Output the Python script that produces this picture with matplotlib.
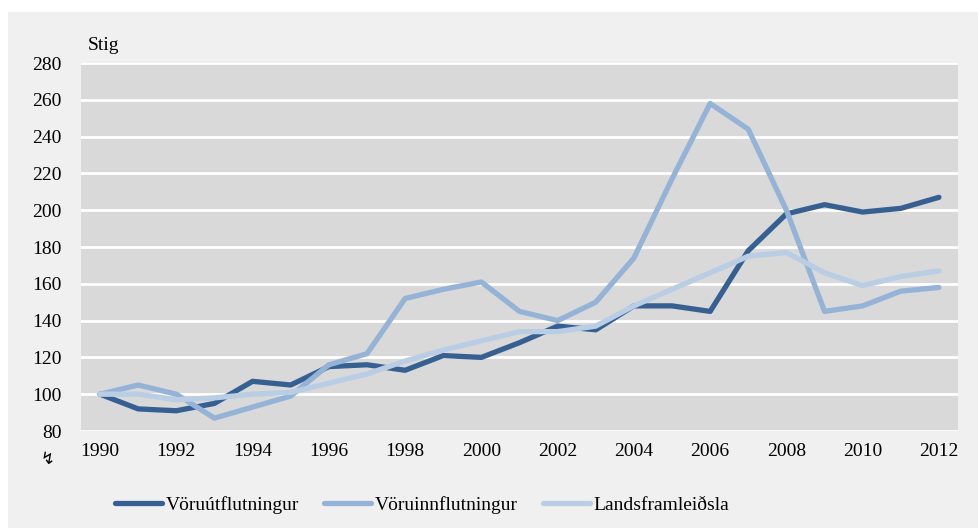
import matplotlib
matplotlib.use("Agg")
import matplotlib.pyplot as plt
from matplotlib.patches import Rectangle

years = list(range(1990, 2013))
utflutningur = [100, 92, 91, 95, 107, 105, 115, 116, 113, 121, 120, 128, 137, 135,
                148, 148, 145, 178, 198, 203, 199, 201, 207]
innflutningur = [100, 105, 100, 87, 93, 99, 116, 122, 152, 157, 161, 145, 140, 150,
                 174, 217, 258, 244, 200, 145, 148, 156, 158]
landsframleidsla = [100, 100, 97, 98, 100, 101, 106, 111, 118, 124, 129, 134, 134, 137,
                    148, 157, 166, 175, 177, 166, 159, 164, 167]
labels = ["Vöruútflutningur", "Vöruinnflutningur", "Landsframleiðsla"]
colors = ["#376092", "#95b3d7", "#b9cde5"]

plt.rcParams['font.family'] = ['Liberation Serif', 'DejaVu Sans']

W, H = 979, 528
fig = plt.figure(figsize=(W / 100, H / 100), dpi=100, facecolor="white")
# light grey panel behind everything
fig.add_artist(Rectangle((8 / W, 0), 1 - 8 / W, 1 - 12 / H, transform=fig.transFigure,
                         facecolor="#f0f0f0", edgecolor="none", zorder=-10))

ax = fig.add_axes([81 / W, 1 - 431 / H, 877 / W, 368 / H])
ax.set_facecolor("#d9d9d9")

for vals, lab, c in zip([utflutningur, innflutningur, landsframleidsla], labels, colors):
    ax.plot(years, vals, color=c, lw=3.8, label=lab, solid_capstyle="round", zorder=3)

ax.set_xlim(1989.5, 2012.5)
ax.set_ylim(80, 280)
ax.set_yticks(range(80, 281, 20))
ax.set_xticks(range(1990, 2013, 2))
ax.grid(axis="y", color="white", lw=2)
ax.set_axisbelow(True)
for s in ax.spines.values():
    s.set_visible(False)
ax.tick_params(length=0, labelsize=14, pad=9)
ax.tick_params(axis="y", pad=14)

fig.text(88 / W, 1 - 45 / H, "Stig", fontsize=14, va="center", ha="left")
fig.text(48 / W, 1 - 459 / H, "↯", fontsize=12, va="center", ha="center",
         family=['DejaVu Sans'])

leg = ax.legend(loc="center", bbox_to_anchor=(0.389, (431 - 505) / 368), ncol=3,
                frameon=False, fontsize=14, handlelength=2.4, handletextpad=0.2,
                columnspacing=1.3)

fig.savefig("out.png", dpi=100, facecolor=fig.get_facecolor())
